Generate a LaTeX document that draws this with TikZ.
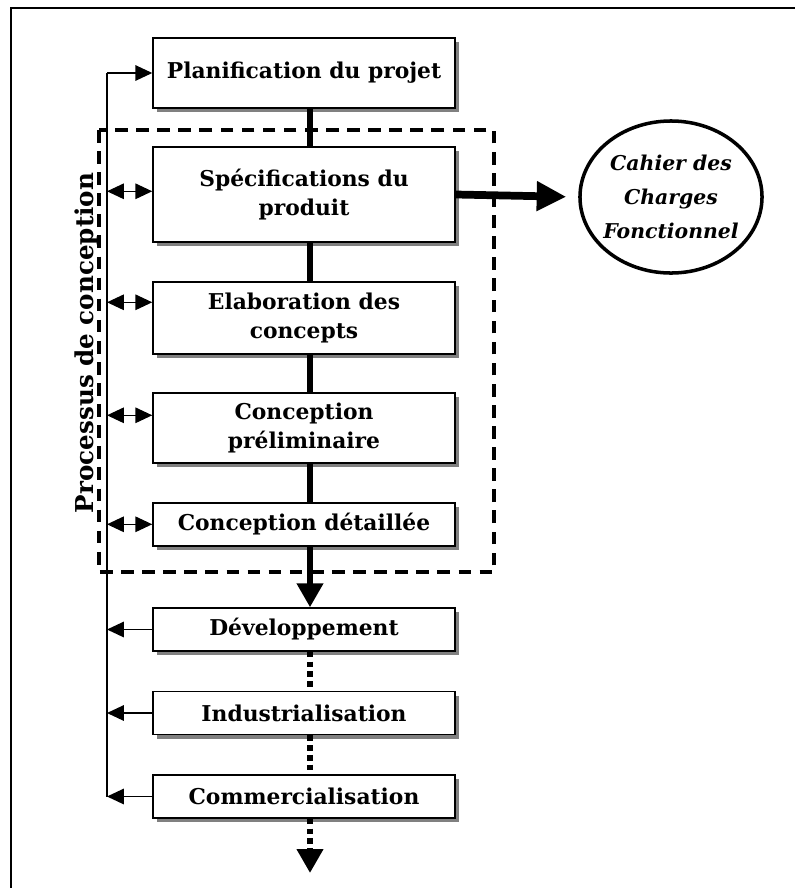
\documentclass[tikz,border=0pt]{standalone}
\usepackage{fontspec}
\setmainfont{DejaVu Serif}
\usetikzlibrary{arrows.meta,shapes.geometric,shadows,calc}
\tikzset{
  etape/.style={draw, fill=white, line width=1pt, minimum width=7.55cm, align=center,
    font=\fontsize{15.5}{21}\selectfont\bfseries,
    drop shadow={shadow xshift=0.1cm, shadow yshift=-0.1cm, fill=gray, opacity=1}},
  lien/.style={line width=4.2pt},
  suite/.style={line width=4.2pt, dash pattern=on 4pt off 3pt},
  fin/.style={line width=1.1pt},
  pointe/.style={-{Triangle[length=12pt,width=11pt]}},
  deuxpointes/.style={{Triangle[length=12pt,width=11pt]}-{Triangle[length=12pt,width=11pt]}},
  grosse/.style={-{Triangle[length=17pt,width=18pt]}},
  cadre/.style={line width=2.8pt, dash pattern=on 9pt off 6pt},
  bulle/.style={draw, ellipse, line width=2.5pt, minimum width=4.55cm, minimum height=3.8cm}
}
\begin{document}
\begin{tikzpicture}[x=0.025cm,y=-0.025cm]
\useasboundingbox (0,0) rectangle (795,888);
\draw[line width=2pt] (11,888) -- (11,8) -- (795,8);
\draw[cadre] (99,130) rectangle (494,572);
\node[rotate=90, font=\fontsize{17.5}{20}\selectfont\bfseries] (titre) at (87,343) {Processus de conception};

\node[etape, minimum height=1.75cm] (plan) at (304,73) {Planification du projet};
\node[etape, minimum height=2.375cm] (spec) at (304,194.5) {Spécifications du\\produit};
\node[etape, minimum height=1.8cm] (elab) at (304,318) {Elaboration des\\concepts};
\node[etape, minimum height=1.75cm] (prel) at (304,428) {Conception\\préliminaire};
\node[etape, minimum height=1.075cm] (det) at (304,524.5) {Conception détaillée};
\node[etape, minimum height=1.075cm] (dev) at (304,629.5) {Développement};
\node[etape, minimum height=1.075cm] (indus) at (304,713) {Industrialisation};
\node[etape, minimum height=1.075cm] (comm) at (304,796.5) {Commercialisation};

\node[bulle] (cdcf) at (671,197) {};
\node[align=center, font=\fontsize{14.5}{24}\selectfont\bfseries\itshape] (cdcftexte) at (cdcf) {Cahier des\\Charges\\Fonctionnel};

\coordinate (axe) at (310,0);
\coordinate (bus) at (107,0);
\coordinate (sortie) at (310,873);

\draw[lien] (plan.south -| axe) -- (spec.north -| axe);
\draw[lien] (spec.south -| axe) -- (elab.north -| axe);
\draw[lien] (elab.south -| axe) -- (prel.north -| axe);
\draw[lien] (prel.south -| axe) -- (det.north -| axe);
\draw[lien, grosse] (det.south -| axe) -- (dev.north -| axe);
\draw[suite] (dev.south -| axe) -- (indus.north -| axe);
\draw[suite] (indus.south -| axe) -- (comm.north -| axe);
\draw[suite, grosse] (comm.south -| axe) -- (sortie);
\draw[line width=5.5pt, -{Triangle[length=21pt,width=20pt]}, shorten >=0.3cm] (spec.east) -- (cdcf.west);

\draw[fin] (plan.west -| bus) -- (comm.west -| bus);
\draw[fin, pointe] (plan.west -| bus) -- (plan.west);
\foreach \n/\d in {spec/45,elab/21,prel/23,det/22}{
  \coordinate (g) at ($(\n.north west)+(0,\d)$);
  \draw[fin, deuxpointes] (g -| bus) -- (g);
}
\foreach \n in {dev,indus,comm}
  \draw[fin, pointe] (\n.west) -- (\n.west -| bus);
\end{tikzpicture}
\end{document}
